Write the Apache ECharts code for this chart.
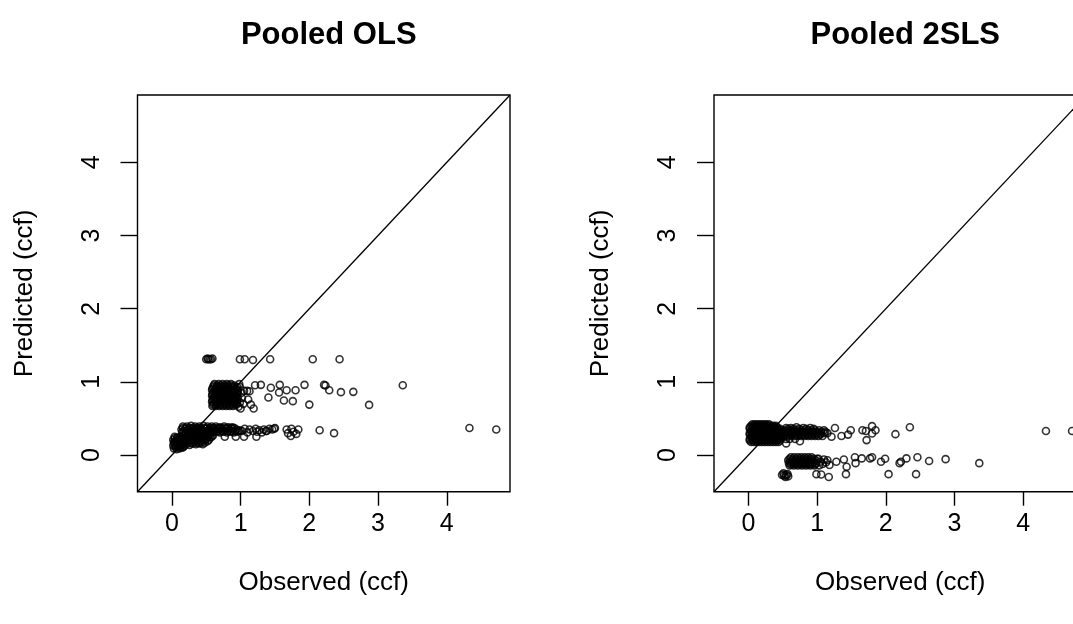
<!DOCTYPE html>
<html>
<head>
<meta charset="utf-8">
<script src="https://cdn.jsdelivr.net/npm/echarts@6/dist/echarts.min.js"></script>
<style>
  html, body { margin: 0; padding: 0; background: #fff; }
  #chart { width: 1073px; height: 624px; }
</style>
</head>
<body>
<div id="chart"></div>
<script>
// Observed vs predicted water use (ccf), two estimators side by side.
const panelTitles = ['Pooled OLS', 'Pooled 2SLS'];
const xAxisTitle = 'Observed (ccf)';
const yAxisTitle = 'Predicted (ccf)';
const xTicks = [0, 1, 2, 3, 4];
const yTicks = [0, 1, 2, 3, 4];
const axisRange = [-0.5, 4.92];

// [observed, predicted] pairs, pooled OLS
const olsPoints = [
  // low-use block
  [0.03,0.09],[0.07,0.08],[0.11,0.09],[0.15,0.10],
  [0.05,0.11],[0.09,0.11],[0.13,0.11],[0.17,0.11],
  [0.02,0.13],[0.06,0.12],[0.10,0.13],[0.14,0.14],[0.18,0.13],
  [0.04,0.15],[0.08,0.15],[0.12,0.15],[0.16,0.15],
  [0.03,0.17],[0.07,0.16],[0.11,0.17],[0.15,0.18],[0.19,0.17],
  [0.04,0.19],[0.08,0.19],[0.12,0.19],[0.16,0.19],
  [0.02,0.21],[0.06,0.20],[0.10,0.21],[0.14,0.22],[0.18,0.21],
  [0.04,0.23],[0.08,0.23],[0.12,0.23],[0.16,0.23],
  [0.04,0.25],[0.08,0.24],[0.12,0.25],[0.16,0.26],
  [0.21,0.15],[0.26,0.14],[0.30,0.16],[0.35,0.15],[0.40,0.16],[0.45,0.15],
  [0.23,0.17],[0.28,0.17],[0.33,0.17],[0.38,0.17],[0.43,0.17],[0.48,0.17],
  [0.22,0.19],[0.27,0.20],[0.32,0.19],[0.37,0.20],[0.42,0.19],[0.47,0.20],[0.52,0.19],
  [0.24,0.21],[0.29,0.21],[0.34,0.21],[0.39,0.21],[0.44,0.21],[0.49,0.21],[0.54,0.21],
  [0.21,0.23],[0.26,0.24],[0.31,0.23],[0.36,0.24],[0.41,0.23],[0.46,0.24],[0.51,0.23],[0.56,0.24],
  [0.23,0.25],[0.28,0.25],[0.33,0.25],[0.38,0.25],[0.43,0.25],[0.48,0.25],[0.53,0.25],[0.58,0.25],
  [0.20,0.27],[0.25,0.28],[0.30,0.27],[0.35,0.28],[0.40,0.27],[0.45,0.28],[0.50,0.27],[0.55,0.28],[0.60,0.27],
  // main band around 0.3
  [0.15,0.31],[0.20,0.31],[0.25,0.32],[0.30,0.31],[0.35,0.32],[0.40,0.31],[0.45,0.32],[0.50,0.31],[0.55,0.32],
  [0.60,0.31],[0.65,0.32],[0.70,0.31],[0.75,0.32],[0.80,0.31],[0.85,0.32],[0.90,0.31],[0.95,0.32],
  [0.17,0.33],[0.22,0.33],[0.27,0.33],[0.32,0.33],[0.37,0.33],[0.42,0.33],[0.47,0.33],[0.52,0.33],[0.57,0.33],
  [0.62,0.33],[0.67,0.33],[0.72,0.33],[0.77,0.33],[0.82,0.33],[0.87,0.33],[0.92,0.33],[0.97,0.33],
  [0.14,0.35],[0.19,0.36],[0.24,0.35],[0.29,0.36],[0.34,0.35],[0.39,0.36],[0.44,0.35],[0.49,0.36],[0.54,0.35],
  [0.59,0.36],[0.64,0.35],[0.69,0.36],[0.74,0.35],[0.79,0.36],[0.84,0.35],[0.89,0.36],[0.94,0.35],[0.99,0.34],
  [0.16,0.37],[0.21,0.37],[0.26,0.37],[0.31,0.37],[0.36,0.37],[0.41,0.37],[0.46,0.37],[0.51,0.37],[0.56,0.37],
  [0.61,0.37],[0.66,0.37],[0.71,0.37],[0.76,0.37],[0.81,0.37],[0.86,0.37],[0.91,0.37],
  [0.16,0.39],[0.22,0.39],[0.28,0.40],[0.34,0.39],[0.40,0.39],[0.46,0.40],[0.52,0.39],[0.58,0.39],[0.64,0.39],
  [0.70,0.38],[0.76,0.39],[0.82,0.38],[0.88,0.38],
  [1.02,0.33],[1.06,0.36],[1.10,0.31],[1.13,0.35],[1.18,0.33],[1.22,0.36],[1.27,0.34],[1.31,0.31],
  [1.34,0.35],[1.38,0.33],[1.42,0.36],[1.46,0.35],[1.49,0.36],[1.50,0.37],
  [0.77,0.25],[0.93,0.25],[1.05,0.25],[1.23,0.25],[1.24,0.32],[1.37,0.33],
  [1.67,0.35],[1.74,0.36],[1.84,0.35],[1.69,0.30],[1.73,0.26],[1.81,0.29],[1.77,0.32],
  [2.15,0.34],[2.36,0.30],[4.33,0.37],[4.72,0.35],
  // middle block around 0.8
  [0.59,0.67],[0.64,0.67],[0.69,0.67],[0.74,0.67],[0.79,0.67],[0.84,0.67],[0.89,0.67],
  [0.60,0.69],[0.65,0.69],[0.70,0.69],[0.75,0.69],[0.80,0.69],[0.85,0.69],[0.90,0.69],[0.94,0.69],
  [0.61,0.71],[0.66,0.71],[0.71,0.71],[0.76,0.71],[0.81,0.71],[0.86,0.71],[0.91,0.71],[0.95,0.71],
  [0.585,0.73],[0.635,0.73],[0.685,0.73],[0.735,0.73],[0.785,0.73],[0.835,0.73],[0.885,0.73],[0.935,0.73],
  [0.59,0.75],[0.64,0.75],[0.69,0.75],[0.74,0.75],[0.79,0.75],[0.84,0.75],[0.89,0.75],[0.94,0.75],
  [0.60,0.77],[0.65,0.77],[0.70,0.77],[0.75,0.77],[0.80,0.77],[0.85,0.77],[0.90,0.77],[0.95,0.77],
  [0.61,0.79],[0.66,0.79],[0.71,0.79],[0.76,0.79],[0.81,0.79],[0.86,0.79],[0.91,0.79],[0.96,0.79],
  [0.585,0.81],[0.635,0.81],[0.685,0.81],[0.735,0.81],[0.785,0.81],[0.835,0.81],[0.885,0.81],[0.935,0.81],
  [0.59,0.83],[0.64,0.83],[0.69,0.83],[0.74,0.83],[0.79,0.83],[0.84,0.83],[0.89,0.83],[0.94,0.83],
  [0.60,0.85],[0.65,0.85],[0.70,0.85],[0.75,0.85],[0.80,0.85],[0.85,0.85],[0.90,0.85],[0.95,0.85],
  [0.61,0.87],[0.66,0.87],[0.71,0.87],[0.76,0.87],[0.81,0.87],[0.86,0.87],[0.91,0.87],[0.96,0.87],
  [0.585,0.89],[0.635,0.89],[0.685,0.89],[0.735,0.89],[0.785,0.89],[0.835,0.89],[0.885,0.89],[0.935,0.89],
  [0.59,0.91],[0.64,0.91],[0.69,0.91],[0.74,0.91],[0.79,0.91],[0.84,0.91],[0.89,0.91],[0.94,0.91],
  [0.60,0.93],[0.65,0.93],[0.70,0.93],[0.75,0.93],[0.80,0.93],[0.85,0.93],[0.90,0.93],[0.95,0.93],
  [0.61,0.95],[0.66,0.95],[0.71,0.95],[0.76,0.95],[0.81,0.95],[0.86,0.95],[0.91,0.95],
  [0.62,0.97],[0.68,0.97],[0.74,0.97],[0.80,0.97],[0.86,0.97],
  [0.99,0.93],[1.01,0.85],[1.02,0.78],[0.99,0.72],[1.05,0.88],[1.04,0.70],[0.97,0.66],[0.98,0.97],
  [1.21,0.955],[1.295,0.96],[1.44,0.92],[1.57,0.96],[1.56,0.855],[1.67,0.887],[1.80,0.887],[1.93,0.96],
  [2.215,0.96],[2.235,0.95],[2.29,0.887],[2.46,0.86],[2.64,0.864],[3.36,0.955],
  [1.405,0.787],[1.63,0.746],[1.76,0.737],[2.00,0.69],[2.87,0.686],
  [1.11,0.76],[1.13,0.873],[1.15,0.69],[1.19,0.637],[1.00,0.637],[1.095,0.877],
  // top row around 1.3
  [0.50,1.31],[0.52,1.32],[0.53,1.31],[0.55,1.31],[0.57,1.31],[0.59,1.32],
  [0.99,1.31],[1.06,1.31],[1.18,1.30],[1.43,1.31],[2.05,1.31],[2.44,1.31]
];

// [observed, predicted] pairs, pooled 2SLS
const tslsPoints = [
  // upper block
  [0.04,0.18],[0.08,0.18],[0.12,0.18],[0.16,0.18],[0.20,0.18],[0.24,0.18],[0.28,0.18],[0.32,0.18],[0.36,0.18],[0.40,0.18],[0.44,0.18],
  [0.02,0.20],[0.06,0.20],[0.10,0.20],[0.14,0.20],[0.18,0.20],[0.22,0.20],[0.26,0.20],[0.30,0.20],[0.34,0.20],[0.38,0.20],[0.42,0.20],[0.46,0.20],
  [0.02,0.22],[0.06,0.22],[0.10,0.22],[0.14,0.22],[0.18,0.22],[0.22,0.22],[0.26,0.22],[0.30,0.22],[0.34,0.22],[0.38,0.22],[0.42,0.22],[0.46,0.22],
  [0.04,0.24],[0.08,0.24],[0.12,0.24],[0.16,0.24],[0.20,0.24],[0.24,0.24],[0.28,0.24],[0.32,0.24],[0.36,0.24],[0.40,0.24],[0.44,0.24],[0.48,0.24],
  [0.04,0.26],[0.08,0.26],[0.12,0.26],[0.16,0.26],[0.20,0.26],[0.24,0.26],[0.28,0.26],[0.32,0.26],[0.36,0.26],[0.40,0.26],[0.44,0.26],[0.48,0.26],
  [0.02,0.28],[0.06,0.28],[0.10,0.28],[0.14,0.28],[0.18,0.28],[0.22,0.28],[0.26,0.28],[0.30,0.28],[0.34,0.28],[0.38,0.28],[0.42,0.28],[0.46,0.28],
  [0.02,0.30],[0.06,0.30],[0.10,0.30],[0.14,0.30],[0.18,0.30],[0.22,0.30],[0.26,0.30],[0.30,0.30],[0.34,0.30],[0.38,0.30],[0.42,0.30],[0.46,0.30],
  [0.04,0.32],[0.08,0.32],[0.12,0.32],[0.16,0.32],[0.20,0.32],[0.24,0.32],[0.28,0.32],[0.32,0.32],[0.36,0.32],[0.40,0.32],[0.44,0.32],[0.48,0.32],
  [0.04,0.34],[0.08,0.34],[0.12,0.34],[0.16,0.34],[0.20,0.34],[0.24,0.34],[0.28,0.34],[0.32,0.34],[0.36,0.34],[0.40,0.34],[0.44,0.34],[0.48,0.34],
  [0.02,0.36],[0.06,0.36],[0.10,0.36],[0.14,0.36],[0.18,0.36],[0.22,0.36],[0.26,0.36],[0.30,0.36],[0.34,0.36],[0.38,0.36],[0.42,0.36],[0.46,0.36],
  [0.02,0.38],[0.06,0.38],[0.10,0.38],[0.14,0.38],[0.18,0.38],[0.22,0.38],[0.26,0.38],[0.30,0.38],[0.34,0.38],[0.38,0.38],[0.42,0.38],
  [0.04,0.40],[0.08,0.40],[0.12,0.40],[0.16,0.40],[0.20,0.40],[0.24,0.40],[0.28,0.40],[0.32,0.40],[0.36,0.40],[0.40,0.40],
  [0.06,0.42],[0.10,0.42],[0.14,0.42],[0.18,0.42],[0.22,0.42],[0.26,0.42],[0.30,0.42],
  [0.52,0.26],[0.57,0.26],[0.62,0.26],[0.67,0.26],[0.72,0.26],[0.77,0.26],[0.82,0.26],[0.87,0.26],[0.92,0.26],[0.97,0.26],[1.02,0.26],[1.08,0.26],
  [0.53,0.28],[0.58,0.28],[0.63,0.28],[0.68,0.28],[0.73,0.28],[0.78,0.28],[0.83,0.28],[0.88,0.28],[0.93,0.28],[0.98,0.28],[1.04,0.28],
  [0.50,0.30],[0.55,0.30],[0.60,0.30],[0.65,0.30],[0.70,0.30],[0.75,0.30],[0.80,0.30],[0.85,0.30],[0.90,0.30],[0.95,0.30],[1.00,0.30],[1.05,0.30],[1.10,0.30],[1.15,0.30],
  [0.54,0.32],[0.59,0.32],[0.64,0.32],[0.69,0.32],[0.74,0.32],[0.79,0.32],[0.84,0.32],[0.89,0.32],[0.94,0.32],[0.99,0.32],[1.06,0.32],[1.12,0.32],
  [0.52,0.34],[0.57,0.34],[0.62,0.34],[0.67,0.34],[0.72,0.34],[0.77,0.34],[0.82,0.34],[0.87,0.34],[0.92,0.34],[0.97,0.34],[1.03,0.34],[1.10,0.34],
  [0.58,0.36],[0.66,0.36],[0.74,0.36],[0.84,0.36],[0.95,0.36],
  [0.55,0.22],[0.60,0.22],[0.68,0.22],[0.75,0.19],[0.55,0.16],
  [0.55,0.37],[0.62,0.37],[0.70,0.38],[0.80,0.37],[0.90,0.37],
  [1.21,0.25],[1.26,0.37],[1.355,0.26],[1.45,0.28],[1.49,0.34],[1.66,0.34],[1.71,0.33],[1.72,0.205],
  [1.80,0.396],[1.80,0.296],[1.85,0.34],[2.14,0.286],[2.35,0.38],[4.33,0.33],[4.71,0.33],
  // lower block
  [0.62,-0.03],[0.67,-0.03],[0.72,-0.03],[0.77,-0.03],[0.82,-0.03],[0.87,-0.03],[0.92,-0.03],
  [0.60,-0.05],[0.65,-0.05],[0.70,-0.05],[0.75,-0.05],[0.80,-0.05],[0.85,-0.05],[0.90,-0.05],[0.95,-0.05],[1.00,-0.05],
  [0.58,-0.07],[0.63,-0.07],[0.68,-0.07],[0.73,-0.07],[0.78,-0.07],[0.83,-0.07],[0.88,-0.07],[0.93,-0.07],[0.98,-0.07],
  [0.605,-0.09],[0.655,-0.09],[0.705,-0.09],[0.755,-0.09],[0.805,-0.09],[0.855,-0.09],[0.905,-0.09],[0.955,-0.09],
  [0.59,-0.11],[0.64,-0.11],[0.69,-0.11],[0.74,-0.11],[0.79,-0.11],[0.84,-0.11],[0.89,-0.11],[0.94,-0.11],[0.99,-0.11],
  [0.62,-0.125],[0.67,-0.125],[0.72,-0.125],[0.77,-0.125],[0.82,-0.125],[0.87,-0.125],[0.92,-0.125],[0.97,-0.125],
  [0.60,-0.14],[0.66,-0.14],[0.72,-0.14],[0.78,-0.14],[0.84,-0.14],[0.90,-0.14],[0.96,-0.14],
  [1.02,-0.05],[1.05,-0.09],[1.08,-0.12],[1.10,-0.06],[1.13,-0.10],[1.03,-0.14],[1.15,-0.07],
  [1.18,-0.136],[1.28,-0.09],[1.39,-0.06],[1.43,-0.16],[1.55,-0.03],[1.56,-0.11],[1.65,-0.045],
  [1.77,-0.045],[1.80,-0.03],[1.93,-0.09],[1.99,-0.05],[2.20,-0.11],[2.22,-0.09],[2.30,-0.045],
  [2.46,-0.03],[2.63,-0.08],[2.87,-0.055],[3.36,-0.11],
  // bottom row around -0.27
  [0.49,-0.27],[0.51,-0.25],[0.52,-0.28],[0.54,-0.30],[0.55,-0.27],[0.57,-0.26],[0.58,-0.29],
  [0.99,-0.26],[1.06,-0.265],[1.17,-0.30],[1.42,-0.26],[2.04,-0.26],[2.44,-0.26]
];

// 45-degree reference line, predicted = observed
const identityLine = [[axisRange[0], axisRange[0]], [axisRange[1], axisRange[1]]];

const FONT = '"Liberation Sans", Arial, Helvetica, sans-serif';
const gridBoxes = [
  { left: 137.5, top: 95, width: 372.5, height: 396.7 },
  { left: 714, top: 95, width: 372.5, height: 396.7 }
];

function xAxisFor(i) {
  return {
    type: 'value', gridIndex: i, min: axisRange[0], max: axisRange[1],
    splitLine: { show: false }, axisLine: { show: false, onZero: false },
    axisTick: { show: true, inside: false, length: 14, customValues: xTicks,
      lineStyle: { color: '#000', width: 1.4 } },
    axisLabel: { customValues: xTicks, color: '#000', fontSize: 25, fontFamily: FONT, margin: 20 },
    name: xAxisTitle, nameLocation: 'middle', nameGap: 78,
    nameTextStyle: { color: '#000', fontSize: 26, fontFamily: FONT }
  };
}
function yAxisFor(i) {
  return {
    type: 'value', gridIndex: i, min: axisRange[0], max: axisRange[1],
    splitLine: { show: false }, axisLine: { show: false, onZero: false },
    axisTick: { show: true, inside: false, length: 17, customValues: yTicks,
      lineStyle: { color: '#000', width: 1.4 } },
    axisLabel: { customValues: yTicks, rotate: 90, color: '#000', fontSize: 25, fontFamily: FONT, margin: 33 },
    name: yAxisTitle, nameLocation: 'middle', nameGap: 100,
    nameTextStyle: { color: '#000', fontSize: 26, fontFamily: FONT }
  };
}
function pointsSeries(i, data) {
  return {
    type: 'scatter', xAxisIndex: i, yAxisIndex: i, data: data,
    symbol: 'circle', symbolSize: 7, clip: true, silent: true,
    itemStyle: { color: 'rgba(0,0,0,0)', borderColor: '#000', borderWidth: 1.6 }
  };
}
function lineSeries(i) {
  return {
    type: 'line', xAxisIndex: i, yAxisIndex: i, data: identityLine,
    showSymbol: false, clip: true, silent: true,
    lineStyle: { color: '#000', width: 1.3 }
  };
}

const chart = echarts.init(document.getElementById('chart'), null, { renderer: 'canvas' });
chart.setOption({
  backgroundColor: '#fff',
  animation: false,
  title: panelTitles.map((t, i) => ({
    text: t,
    left: gridBoxes[i].left + gridBoxes[i].width / 2,
    top: 15,
    textAlign: 'center',
    textStyle: { fontSize: 31, fontWeight: 'bold', color: '#000', fontFamily: FONT }
  })),
  grid: gridBoxes.map(b => Object.assign({ show: true, borderColor: '#000', borderWidth: 1.4,
    backgroundColor: 'rgba(0,0,0,0)', containLabel: false, outerBoundsMode: 'none' }, b)),
  xAxis: [xAxisFor(0), xAxisFor(1)],
  yAxis: [yAxisFor(0), yAxisFor(1)],
  series: [
    lineSeries(0), pointsSeries(0, olsPoints),
    lineSeries(1), pointsSeries(1, tslsPoints)
  ]
});
</script>
</body>
</html>
